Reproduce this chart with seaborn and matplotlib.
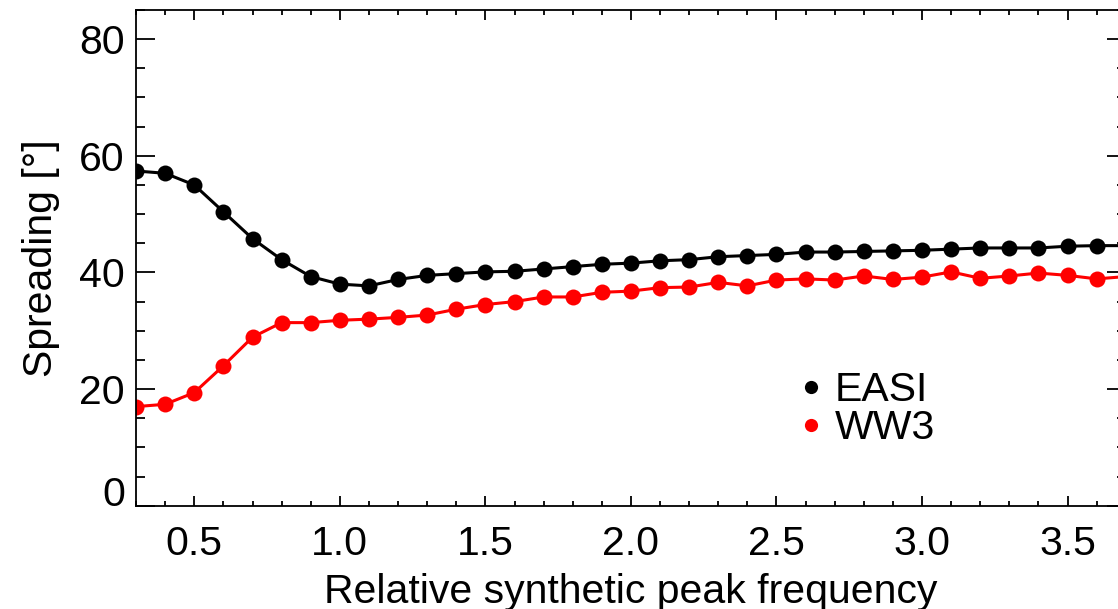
import numpy as np
import pandas as pd
import matplotlib
matplotlib.use("Agg")
import matplotlib.pyplot as plt
import seaborn as sns
from matplotlib.lines import Line2D
from matplotlib.ticker import MultipleLocator, FormatStrFormatter

# ---- data ----
freq = [0.3, 0.4, 0.5, 0.6, 0.7, 0.8, 0.9, 1.0, 1.1, 1.2, 1.3, 1.4, 1.5, 1.6,
        1.7, 1.8, 1.9, 2.0, 2.1, 2.2, 2.3, 2.4, 2.5, 2.6, 2.7, 2.8, 2.9, 3.0,
        3.1, 3.2, 3.3, 3.4, 3.5, 3.6, 3.7]
easi = [57.4, 57.0, 55.0, 50.4, 45.8, 42.2, 39.3, 38.0, 37.7, 38.8, 39.5, 39.8,
        40.1, 40.2, 40.6, 41.0, 41.4, 41.6, 42.0, 42.2, 42.7, 42.9, 43.1, 43.5,
        43.5, 43.6, 43.7, 43.8, 44.0, 44.2, 44.2, 44.2, 44.5, 44.6, 44.6]
ww3 = [17.0, 17.4, 19.4, 24.0, 28.9, 31.4, 31.4, 31.8, 32.0, 32.3, 32.7, 33.7,
       34.5, 35.0, 35.8, 35.8, 36.6, 36.8, 37.4, 37.5, 38.3, 37.7, 38.7, 38.9,
       38.7, 39.4, 38.8, 39.2, 40.1, 39.0, 39.4, 39.9, 39.5, 38.9, 39.3]
series_names = ["EASI", "WW3"]
series_colors = {"EASI": "black", "WW3": "red"}
ytick_vals = [0, 20, 40, 60, 80]
ytick_labels = ["0", "20", "40", "60", "80"]
xlabel = "Relative synthetic peak frequency"
ylabel = "Spreading [°]"

df = pd.DataFrame({
    "freq": freq + freq,
    "spread": easi + ww3,
    "model": ["EASI"] * len(freq) + ["WW3"] * len(freq),
})

sns.set_style("white")
plt.rcParams["font.family"] = ["Liberation Sans", "DejaVu Sans"]
plt.rcParams["text.color"] = "black"
plt.rcParams["axes.labelcolor"] = "black"
plt.rcParams["xtick.color"] = "black"
plt.rcParams["ytick.color"] = "black"

FS = 29.5
fig = plt.figure(figsize=(11.18, 6.09), dpi=100)
ax = fig.add_axes([0.1217, 0.1695, 0.8853, 0.8141])

sns.lineplot(data=df, x="freq", y="spread", hue="model", hue_order=series_names,
             palette=series_colors, marker="o", markersize=11.5, markeredgewidth=0,
             linewidth=2.2, estimator=None, sort=False, legend=False, ax=ax)

ax.set_xlim(0.3, 3.7)
ax.set_ylim(0, 85)

ax.xaxis.set_major_locator(MultipleLocator(0.5))
ax.xaxis.set_minor_locator(MultipleLocator(0.1))
ax.xaxis.set_major_formatter(FormatStrFormatter("%.1f"))
ax.set_yticks(ytick_vals)
ax.set_yticklabels(ytick_labels)
ax.yaxis.set_minor_locator(MultipleLocator(5))

ax.tick_params(axis="x", which="major", direction="in", length=7.2, width=1.3,
               top=True, bottom=True, labelsize=FS, pad=14, color="black",
               labelcolor="black")
ax.tick_params(axis="x", which="minor", direction="in", length=3.6, width=1.3,
               top=True, bottom=True, color="black")
ax.tick_params(axis="y", which="major", direction="in", length=14, width=1.3,
               left=True, right=True, labelsize=FS, pad=8, color="black",
               labelcolor="black")
ax.tick_params(axis="y", which="minor", direction="in", length=6.8, width=1.3,
               left=True, right=True, color="black")

for sp in ax.spines.values():
    sp.set_visible(True)
    sp.set_linewidth(1.3)
    sp.set_color("black")

# the "0" label sits on the bottom axis line
ax.yaxis.get_major_ticks()[0].label1.set_verticalalignment("baseline")

ax.set_xlabel(xlabel, fontsize=FS, labelpad=7, color="black")
ax.set_ylabel(ylabel, fontsize=FS, labelpad=14, color="black")

handles = [Line2D([], [], linestyle="none", marker="o", markersize=9.5,
                  markeredgewidth=0, color=series_colors[n]) for n in series_names]
leg = ax.legend(handles, series_names, loc="center left",
                bbox_to_anchor=(2.581, 16.6), bbox_transform=ax.transData,
                frameon=False, fontsize=FS, handlelength=0.55, handletextpad=0.3,
                labelspacing=0.0, borderpad=0, borderaxespad=0)
for t in leg.get_texts():
    t.set_color("black")

fig.savefig("out.png", dpi=100)
